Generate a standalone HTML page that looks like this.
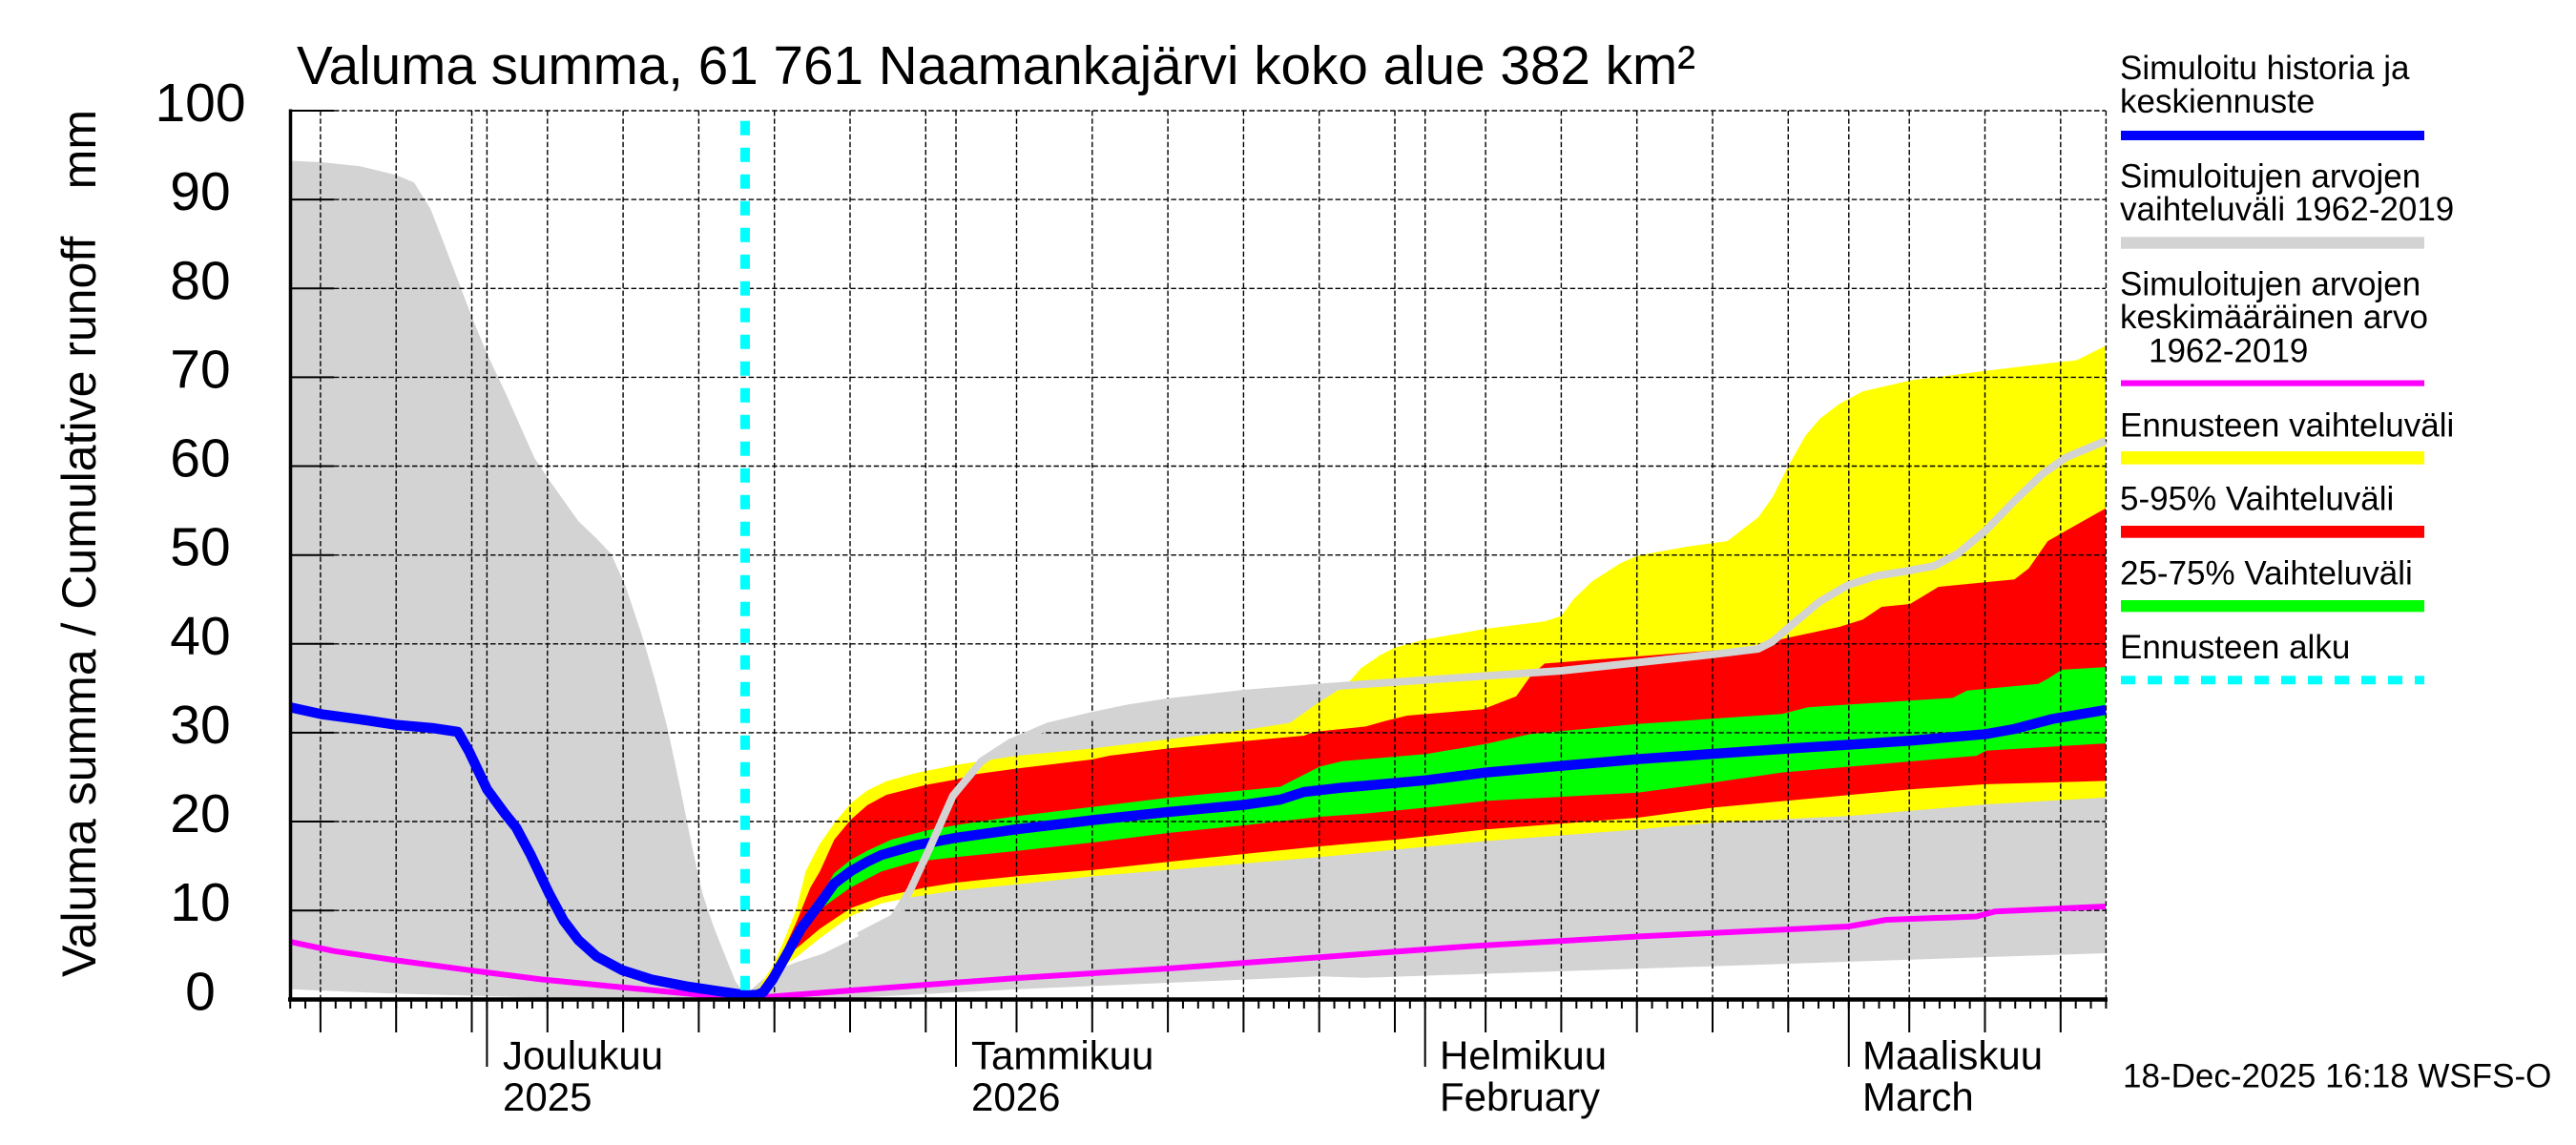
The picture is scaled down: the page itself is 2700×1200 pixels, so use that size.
<!DOCTYPE html>
<html><head><meta charset="utf-8">
<style>
html,body{margin:0;padding:0;background:#fff;width:2700px;height:1200px;overflow:hidden}
svg{display:block}
text{font-family:"Liberation Sans",Arial,Helvetica,sans-serif;fill:#000}
</style></head>
<body>
<svg width="2700" height="1200" viewBox="0 0 2700 1200" xmlns="http://www.w3.org/2000/svg">
<defs>
<pattern id="mt" patternUnits="userSpaceOnUse" x="303.2" y="0" width="15.86" height="20">
<rect x="0" y="0" width="2" height="20" fill="#000"/>
</pattern>
</defs>

<!-- gray range fill -->
<path fill="#d3d3d3" d="M304,168.4 L338.3,170.1 376.5,174.1 414.8,183.3 434,191.3 451.2,218.9 464.6,253.3 479.9,293.5 495.2,333.7 510.5,371 529.6,411.2 544.9,445.6 560.2,480 575.5,503 606.2,546.1 625.3,564.4 640.6,580.5 655.9,615 673.1,666.6 686.5,712.5 699.9,764.2 713.3,827.3 724.8,884.7 736.3,936.4 747.8,970.8 759.2,999.5 770.7,1028.2 781,1043 797.5,1028.2 812.8,1016.7 835.8,1008.1 862.6,999.5 900,981 936.6,962 954,933 973.9,890 998.8,834 1028.6,798 1058.4,778.6 1098.2,761.4 1145.5,750 1182.8,742.3 1224.6,735.8 1303.7,727 1383.2,720.5 1430,717 1494.7,712.6 1636.4,703 1795.6,685.8 1842.8,680 1857.8,672.4 1877.7,655.2 1907.5,630.3 1937.4,613 1967.2,603.5 2002,597.8 2026.9,593.2 2051.8,580.5 2081.6,555.7 2111.4,525 2141.3,496.3 2166.2,479.1 2207,462 L2207,999 1430,1024.7 1383,1023.3 1224.6,1030 1066.4,1036.7 909.2,1045 804.8,1049 781,1047 682.7,1049 567.9,1045.4 414.8,1041.4 304,1036.8 Z"/>

<!-- yellow -->
<path fill="#ffff00" d="M781,1045 L795,1035 809.7,1013 822,985 834.6,953 844.6,912.6 859.5,884 874.4,862.8 891.8,841.8 909.2,828.4 929.1,818.8 959,810.4 1002.2,801.6 1066.4,792 1145.5,784.4 1224.6,774.8 1303.7,765.2 1351.9,757.6 1381.7,736.5 1411.6,717.4 1426.5,700.2 1446.4,686.8 1462.3,678.5 1494.7,670 1557.3,659 1619,651.3 1636.4,645.6 1648.9,628.4 1668.8,609.2 1698.6,590.1 1716.5,582.4 1768.2,572.9 1810.5,567.1 1842.8,542.3 1857.8,521.2 1874.2,488.7 1892.6,456.2 1907.5,438.9 1927.4,423.6 1952.3,410.2 2002,398.8 2076.6,389.2 2156.2,379.6 2176.1,377.7 2207,362.4 L2207,835.9 2081.6,843 1937.4,855.2 1795.6,862.2 1716.5,869.3 1557.3,881.5 1462.3,890.5 1383.2,898.3 1303.7,905 1224.6,911.7 1145.5,918.3 1066.4,926.7 1002.2,933.3 956.5,940 924.1,946.7 891.8,960 859.5,983.3 834.6,1003.3 809.7,1020 795,1036 Z"/>

<!-- red -->
<path fill="#ff0000" d="M781,1045 L797,1035 814.7,1013 824,990 834.6,966.7 849.5,930 859.5,913 874.4,880 891.8,859 909.2,843.7 929.1,833 970.4,822.6 1002.2,816.9 1023.6,811.2 1066.4,805.4 1145.5,795.8 1162.9,792 1224.6,784.4 1303.7,776.7 1366.8,771 1376.8,767.1 1431.5,761.4 1451.4,755.7 1474.8,750 1554.4,743.2 1589.2,729.8 1604.1,708.7 1619,695.4 1718.5,687.7 1818,680 1842.8,676.2 1872.7,668.6 1927.4,657.1 1952.3,649.4 1972.2,636 2002,633 2031.9,615 2111.4,607.3 2126.4,595.8 2146.3,567.1 2166.2,555.7 2207,532.7 L2207,818.4 2081.6,821.9 2002,827.2 1795.6,846.4 1716.5,857 1557.3,869.3 1462.3,880 1383.2,887 1303.7,895 1224.6,903.3 1145.5,911.7 1066.4,918.3 1002.2,925 970.4,930 924.1,940 891.8,951.7 859.5,973.3 839.6,990 814.7,1010 797,1035 Z"/>

<!-- green -->
<path fill="#00ff00" d="M781,1045 L800,1038 820,1005 844.6,963 859.5,940 874.4,915 891.8,901.1 909.2,891.5 934.1,880 970.4,870.5 1002.2,864.7 1066.4,855.2 1145.5,845.6 1224.6,836 1303.7,828.4 1341.9,824.5 1356.9,816.9 1383.2,803.5 1406.6,797.8 1462.3,793 1494.7,790.3 1556.8,779.8 1604.1,769.3 1716.5,758.7 1867.7,748.2 1895,741.2 2046.8,731.4 2061.7,723.7 2136.3,716.7 2146.3,711.4 2161.2,701.9 2207,699.1 L2207,779.1 2081.6,786.8 2071.6,792.1 1867.7,809.6 1795.6,820.1 1716.5,830.7 1557.3,839.4 1494.7,846.4 1430,852.8 1383.2,856 1303.7,865 1224.6,873 1145.5,883 1066.4,891.7 1002.2,898.3 959,903.3 924.1,913.3 891.8,930 859.5,953 840,975 820,1010 800,1038 Z"/>

<!-- grid -->
<g stroke="#000" stroke-width="1.4" stroke-dasharray="5.5 2.7" fill="none">
<path d="M350,116 H2207 M350,209.1 H2207 M350,302.3 H2207 M350,395.4 H2207 M350,488.5 H2207 M350,581.7 H2207 M350,674.8 H2207 M350,767.9 H2207 M350,861 H2207 M350,954.2 H2207"/>
<path d="M335.9,116 V1046 M415.2,116 V1046 M494.5,116 V1046 M510.4,116 V1046 M573.8,116 V1046 M653.1,116 V1046 M732.4,116 V1046 M811.7,116 V1046 M891,116 V1046 M970.3,116 V1046 M1002,116 V1046 M1065.5,116 V1046 M1144.8,116 V1046 M1224.1,116 V1046 M1303.4,116 V1046 M1382.7,116 V1046 M1462,116 V1046 M1493.7,116 V1046 M1557.1,116 V1046 M1636.4,116 V1046 M1715.7,116 V1046 M1795,116 V1046 M1874.3,116 V1046 M1937.8,116 V1046 M2001.2,116 V1046 M2080.5,116 V1046 M2159.8,116 V1046 M2207.4,116 V1046"/>
</g>

<!-- y ticks (inward solid) -->
<path stroke="#000" stroke-width="2" fill="none" d="M304,116 H350 M304,209.1 H350 M304,302.3 H350 M304,395.4 H350 M304,488.5 H350 M304,581.7 H350 M304,674.8 H350 M304,767.9 H350 M304,861 H350 M304,954.2 H350"/>

<!-- magenta mean -->
<polyline fill="none" stroke="#ff00ff" stroke-width="6" stroke-linejoin="round" points="304,986.9 349.8,996.7 414.8,1006.4 491.4,1016.7 567.9,1026.5 644.4,1034 721,1041.4 781,1046.6 909.2,1036.7 1066.4,1025 1224.6,1015 1383.2,1003.3 1430,999.8 1540,991.7 1716.5,981.5 1937.4,971 1977,964 2071.6,960.5 2091.5,955.2 2207,950"/>

<!-- blue median -->
<polyline fill="none" stroke="#0000ff" stroke-width="10.5" stroke-linejoin="round" points="304,741.2 338.3,748.7 376.5,753.8 414.8,759.6 453.1,763 479.9,767 491.4,787.1 510.5,827.3 529.6,853.2 541.1,867.5 556.4,896.2 575.5,936.4 590.9,965.1 606.2,985.2 625.3,1002.4 652.1,1016.7 682.7,1026.5 721,1034 759.2,1039.7 782.2,1043.1 793.7,1042.5 799.8,1040 809.7,1026.7 824.7,1000 839.6,973.3 859.5,946.7 874.4,926 891.8,913 909.2,903 924,896 959,886 1002.2,878 1066.4,869 1145.5,859.5 1224.6,851 1303.7,843.5 1341.9,838 1366.8,830 1406.6,825.5 1430,823.5 1494.7,817.7 1557.3,809.6 1716.5,795.6 1867.7,785 2002,776.3 2081.6,769.3 2111.4,764 2151.2,753.5 2207,744"/>

<!-- gray max line over bands -->
<polyline fill="none" stroke="#d3d3d3" stroke-width="8" stroke-linejoin="round" points="900,981 936.6,962 954,933 973.9,890 998.8,834 1028.6,798 1058.4,778.6 1098.2,761.4 1145.5,750 1182.8,742.3 1224.6,735.8 1303.7,727 1383.2,720.5 1430,717 1494.7,712.6 1636.4,703 1795.6,685.8 1842.8,680 1857.8,672.4 1877.7,655.2 1907.5,630.3 1937.4,613 1967.2,603.5 2002,597.8 2026.9,593.2 2051.8,580.5 2081.6,555.7 2111.4,525 2141.3,496.3 2166.2,479.1 2207,462"/>

<!-- cyan forecast start -->
<line x1="781" y1="126.7" x2="781" y2="1046" stroke="#00ffff" stroke-width="10" stroke-dasharray="15 13"/>

<!-- axes -->
<line x1="304.5" y1="114.5" x2="304.5" y2="1049" stroke="#000" stroke-width="3.5"/>
<line x1="302" y1="1047.5" x2="2209" y2="1047.5" stroke="#000" stroke-width="4.5"/>
<rect x="303" y="1047" width="1906" height="10" fill="url(#mt)"/>
<path stroke="#000" stroke-width="2" fill="none" d="M335.9,1047 V1082 M415.2,1047 V1082 M494.5,1047 V1082 M573.8,1047 V1082 M653.1,1047 V1082 M732.4,1047 V1082 M811.7,1047 V1082 M891,1047 V1082 M970.3,1047 V1082 M1065.5,1047 V1082 M1144.8,1047 V1082 M1224.1,1047 V1082 M1303.4,1047 V1082 M1382.7,1047 V1082 M1462,1047 V1082 M1557.1,1047 V1082 M1636.4,1047 V1082 M1715.7,1047 V1082 M1795,1047 V1082 M1874.3,1047 V1082 M2001.2,1047 V1082 M2080.5,1047 V1082 M2159.8,1047 V1082 M510.4,1047 V1118 M1002,1047 V1118 M1493.7,1047 V1118 M1937.8,1047 V1118"/>

<!-- title -->
<text x="311" y="88" font-size="57" textLength="1466" lengthAdjust="spacingAndGlyphs">Valuma summa, 61 761 Naamankajärvi koko alue 382 km²</text>

<!-- y tick labels -->
<g font-size="57" text-anchor="middle">
<text x="210" y="127">100</text>
<text x="210" y="220.1">90</text>
<text x="210" y="313.3">80</text>
<text x="210" y="406.4">70</text>
<text x="210" y="499.5">60</text>
<text x="210" y="592.7">50</text>
<text x="210" y="685.8">40</text>
<text x="210" y="778.9">30</text>
<text x="210" y="872">20</text>
<text x="210" y="965.2">10</text>
<text x="210" y="1058.3">0</text>
</g>

<!-- y axis title -->
<text transform="translate(100,1024) rotate(-90)" font-size="50">Valuma summa / Cumulative runoff</text>
<text transform="translate(100,1024) rotate(-90)" x="909" font-size="50" text-anchor="end">mm</text>

<!-- x labels -->
<g font-size="42">
<text x="527" y="1120.7">Joulukuu</text>
<text x="527" y="1164">2025</text>
<text x="1018" y="1120.7">Tammikuu</text>
<text x="1018" y="1164">2026</text>
<text x="1509" y="1120.7">Helmikuu</text>
<text x="1509" y="1164">February</text>
<text x="1952" y="1120.7">Maaliskuu</text>
<text x="1952" y="1164">March</text>
</g>

<!-- legend -->
<g font-size="35">
<text x="2222" y="83">Simuloitu historia ja</text>
<text x="2222" y="118">keskiennuste</text>
<text x="2222" y="196.7">Simuloitujen arvojen</text>
<text x="2222" y="231">vaihteluväli 1962-2019</text>
<text x="2222" y="309.3">Simuloitujen arvojen</text>
<text x="2222" y="344">keskimääräinen arvo</text>
<text x="2252" y="379.3">1962-2019</text>
<text x="2222" y="457.3">Ennusteen vaihteluväli</text>
<text x="2222" y="534.3">5-95% Vaihteluväli</text>
<text x="2222" y="612.3">25-75% Vaihteluväli</text>
<text x="2222" y="690">Ennusteen alku</text>
</g>
<rect x="2223" y="137" width="318" height="10" fill="#0000ff"/>
<rect x="2223" y="248.3" width="318" height="12.4" fill="#d3d3d3"/>
<rect x="2223" y="398.5" width="318" height="6.2" fill="#ff00ff"/>
<rect x="2223" y="473" width="318" height="13.7" fill="#ffff00"/>
<rect x="2223" y="551" width="318" height="12.7" fill="#ff0000"/>
<rect x="2223" y="629" width="318" height="12.3" fill="#00ff00"/>
<line x1="2223" y1="712.8" x2="2541" y2="712.8" stroke="#00ffff" stroke-width="9" stroke-dasharray="15 13"/>

<!-- timestamp -->
<text x="2225" y="1139.3" font-size="35">18-Dec-2025 16:18 WSFS-O</text>
</svg>
</body></html>
